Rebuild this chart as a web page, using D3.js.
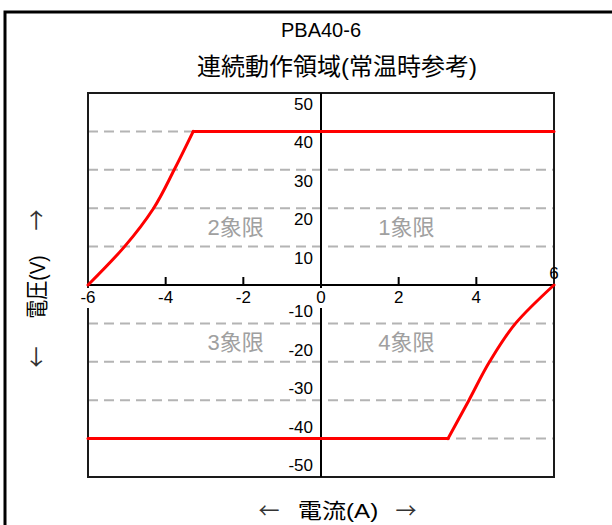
<!DOCTYPE html>
<html>
<head>
<meta charset="utf-8">
<script src="https://cdn.jsdelivr.net/npm/d3@7"></script>
<style>
  html, body { margin: 0; padding: 0; background: #fff; }
  svg { display: block; }
  text { font-family: "Liberation Sans", Arial, "Noto Sans CJK JP", sans-serif; }
  text.arrow { font-family: "Noto Sans CJK JP", sans-serif; }
</style>
</head>
<body>
<svg id="chart" width="612" height="525"></svg>
<script>
// ---- data ----
const titleText = "PBA40-6";
const subtitleText = "連続動作領域(常温時参考)";
const xAxisTitle = "電流(A)";
const yAxisTitle = "電圧(V)";
const currentTicks = [-6, -4, -2, 0, 2, 4, 6];
const voltageTicks = [50, 40, 30, 20, 10, -10, -20, -30, -40, -50];
const gridVoltages = [40, 30, 20, 10, -10, -20, -30, -40];
const quadrantNames = ["1象限", "2象限", "3象限", "4象限"];
const quadrantI = [2.2, -2.2, -2.2, 2.2];
const quadrantV = [15, 15, -15, -15];
// upper boundary curve (quadrant 2) and flat part (quadrants 2 -> 1)
const upperCurveI = [-6, -5.06, -4.31, -3.78, -3.29];
const upperCurveV = [0, 10, 20, 30, 40];
const upperFlatI = [-3.29, 6];
const upperFlatV = [40, 40];
// lower boundary flat part (quadrants 3 -> 4) and curve (quadrant 4)
const lowerFlatI = [-6, 3.27];
const lowerFlatV = [-40, -40];
const lowerCurveI = [3.27, 3.81, 4.34, 5.01, 6];
const lowerCurveV = [-40, -30, -20, -10, 0];

// ---- layout ----
const svg = d3.select("#chart");
const x = d3.scaleLinear().domain([-6, 6]).range([88, 554]);
const y = d3.scaleLinear().domain([-50, 50]).range([477, 93]);

// outer frame
svg.append("rect").attr("x", 5).attr("y", 12).attr("width", 700).attr("height", 600)
  .attr("fill", "none").attr("stroke", "#000").attr("stroke-width", 3);

// titles
svg.append("text").attr("x", 321).attr("y", 37).attr("text-anchor", "middle")
  .attr("font-size", 20).attr("fill", "#000").text(titleText);
svg.append("text").attr("x", 337).attr("y", 75).attr("text-anchor", "middle")
  .attr("font-size", 24).attr("fill", "#000").text(subtitleText);

// gridlines
svg.append("g").selectAll("line").data(gridVoltages).join("line")
  .attr("x1", x(-6)).attr("x2", x(6))
  .attr("y1", d => y(d)).attr("y2", d => y(d))
  .attr("stroke", "#b4b4b4").attr("stroke-width", 2).attr("stroke-dasharray", "10,6");

// plot border
svg.append("rect").attr("x", x(-6)).attr("y", y(50))
  .attr("width", x(6) - x(-6)).attr("height", y(-50) - y(50))
  .attr("fill", "none").attr("stroke", "#1a1a1a").attr("stroke-width", 2);

// axes through zero
svg.append("line").attr("x1", x(-6)).attr("x2", x(6)).attr("y1", y(0)).attr("y2", y(0))
  .attr("stroke", "#000").attr("stroke-width", 2);
svg.append("line").attr("x1", x(0)).attr("x2", x(0)).attr("y1", y(50)).attr("y2", y(-50))
  .attr("stroke", "#000").attr("stroke-width", 2);

// x ticks (upward)
svg.append("g").selectAll("line").data(currentTicks.filter(d => d !== 0 && Math.abs(d) !== 6)).join("line")
  .attr("x1", d => x(d)).attr("x2", d => x(d))
  .attr("y1", y(0)).attr("y2", y(0) - 8)
  .attr("stroke", "#000").attr("stroke-width", 2);

// boundary lines
const curve = d3.line().x(d => x(d[0])).y(d => y(d[1])).curve(d3.curveMonotoneY);
const straight = d3.line().x(d => x(d[0])).y(d => y(d[1]));
const zip = (a, b) => a.map((v, i) => [v, b[i]]);
const red = g => g.attr("fill", "none").attr("stroke", "#ff0000").attr("stroke-width", 3)
  .attr("stroke-linejoin", "round").attr("stroke-linecap", "round");
svg.append("path").attr("d", curve(zip(upperCurveI, upperCurveV))).call(red);
svg.append("path").attr("d", straight(zip(upperFlatI, upperFlatV))).call(red);
svg.append("path").attr("d", straight(zip(lowerFlatI, lowerFlatV))).call(red);
svg.append("path").attr("d", curve(zip(lowerCurveI, lowerCurveV))).call(red);

// y tick labels
svg.append("g").selectAll("text").data(voltageTicks).join("text")
  .attr("x", x(0) - 8)
  .attr("y", d => d > 0 ? y(d) + 11 : y(d) - 12)
  .attr("dy", "0.35em")
  .attr("text-anchor", "end").attr("font-size", 17).attr("fill", "#000")
  .text(d => d);

// x tick labels
const xl = svg.append("g").selectAll("g").data(currentTicks).join("g")
  .attr("transform", d => `translate(${x(d)},${d === 6 ? y(0) - 12 : y(0) + 12})`);
xl.filter(d => d === 0 || d === -6).append("rect")
  .attr("x", d => d === 0 ? -6 : -9).attr("y", -9)
  .attr("width", d => d === 0 ? 12 : 18).attr("height", 20).attr("fill", "#fff");
xl.append("text").attr("text-anchor", "middle").attr("dy", "0.35em")
  .attr("font-size", 17).attr("fill", "#000").text(d => d);

// quadrant labels
svg.append("g").selectAll("text").data(quadrantNames).join("text")
  .attr("x", (d, i) => x(quadrantI[i]))
  .attr("y", (d, i) => y(quadrantV[i]))
  .attr("dy", "0.35em").attr("text-anchor", "middle")
  .attr("font-size", 22).attr("fill", "#a0a0a0").text(d => d);

// x axis title
const xt = svg.append("g").attr("transform", "translate(338,511) scale(1.15,1)");
xt.append("text").attr("x", 0).attr("y", 0).attr("dy", "0.35em").attr("text-anchor", "middle")
  .attr("font-size", 21).attr("fill", "#000").text(xAxisTitle);
svg.append("text").attr("class", "arrow").attr("x", 269).attr("y", 518).attr("text-anchor", "middle")
  .attr("font-size", 21).attr("fill", "#333").text("←");
svg.append("text").attr("class", "arrow").attr("x", 406).attr("y", 518).attr("text-anchor", "middle")
  .attr("font-size", 21).attr("fill", "#333").text("→");

// y axis title
const yt = svg.append("g").attr("transform", "translate(37,287) scale(1.18,1) rotate(-90)");
yt.append("text").attr("x", 0).attr("y", 0).attr("dy", "0.35em").attr("text-anchor", "middle")
  .attr("font-size", 19).attr("fill", "#000").text(yAxisTitle);
yt.append("text").attr("class", "arrow").attr("x", -70).attr("y", 0).attr("dy", "0.35em").attr("text-anchor", "middle")
  .attr("font-size", 21).attr("fill", "#333").text("←");
yt.append("text").attr("class", "arrow").attr("x", 67).attr("y", 0).attr("dy", "0.35em").attr("text-anchor", "middle")
  .attr("font-size", 21).attr("fill", "#333").text("→");
</script>
</body>
</html>
